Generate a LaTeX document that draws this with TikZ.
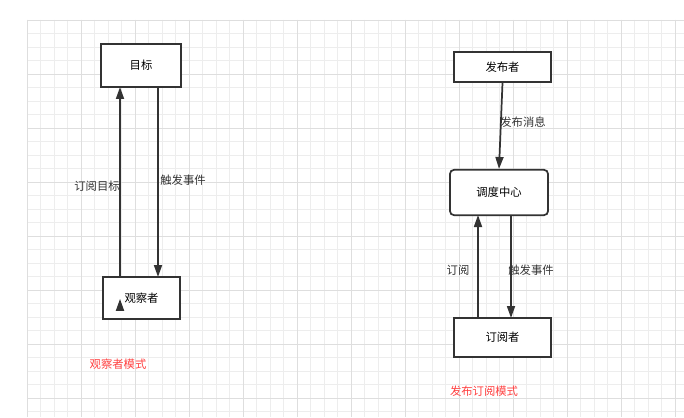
\documentclass[tikz,border=0pt]{standalone}
\usepackage{fontspec}
\newfontfamily\cjk{Noto Sans CJK SC}
\usetikzlibrary{arrows.meta}
\begin{document}
\begin{tikzpicture}[x=0.75pt,y=-0.75pt,
 box/.style={draw=black!80,line width=1.3pt,fill=white,font=\cjk\fontsize{8.5}{10}\selectfont,inner sep=0},
 lbl/.style={font=\cjk\fontsize{8.5}{10}\selectfont,text=black!80},
 red/.style={font=\cjk\fontsize{8.5}{10}\selectfont,text=red!75},
 arr/.style={draw=black!80,line width=1.3pt,-{Triangle[length=9pt,width=6pt]}}]
\useasboundingbox (0,0) rectangle (684,417);
\fill[white] (0,0) rectangle (684,417);
\foreach \i in {0,...,48} \draw[black!7,line width=0.5pt] (27+\i*13.5,20) -- (27+\i*13.5,417);
\foreach \j in {0,...,29} \draw[black!7,line width=0.5pt] (27,20+\j*13.5) -- (684,20+\j*13.5);
\foreach \i in {0,...,12} \draw[black!13,line width=0.6pt] (27+\i*54,20) -- (27+\i*54,417);
\foreach \j in {0,...,7} \draw[black!13,line width=0.6pt] (27,20+\j*54) -- (684,20+\j*54);
\node[box,minimum width=60pt,minimum height=32pt] (t) at (141,65.5) {目标};
\node[box,minimum width=58pt,minimum height=31.5pt] (o) at (141.5,298) {观察者};
\node[box,minimum width=73pt,minimum height=22.5pt] (p) at (502.5,67) {发布者};
\node[box,rounded corners=3pt,minimum width=73.5pt,minimum height=34pt] (c) at (499,192.5) {调度中心};
\node[box,minimum width=73pt,minimum height=29pt] (s) at (502.5,337.5) {订阅者};
\draw[arr] (o.south west -| 120,0) ++(0,-21*1) coordinate (a1);
\draw[arr] (120,277) -- (120,87);
\draw[arr] (158,87) -- (158,277);
\draw[arr] (p.south) -- (c.north);
\draw[arr] (478,318) -- (478,215);
\draw[arr] (511,215) -- (511,318);
\node[lbl] (l1) at (97,186) {订阅目标};
\node[lbl] (l2) at (183,180) {触发事件};
\node[lbl] (l3) at (523,122) {发布消息};
\node[lbl] (l4) at (458,270) {订阅};
\node[lbl] (l5) at (531,270) {触发事件};
\node[red] (r1) at (118,364) {观察者模式};
\node[red] (r2) at (484,391) {发布订阅模式};
\end{tikzpicture}
\end{document}
